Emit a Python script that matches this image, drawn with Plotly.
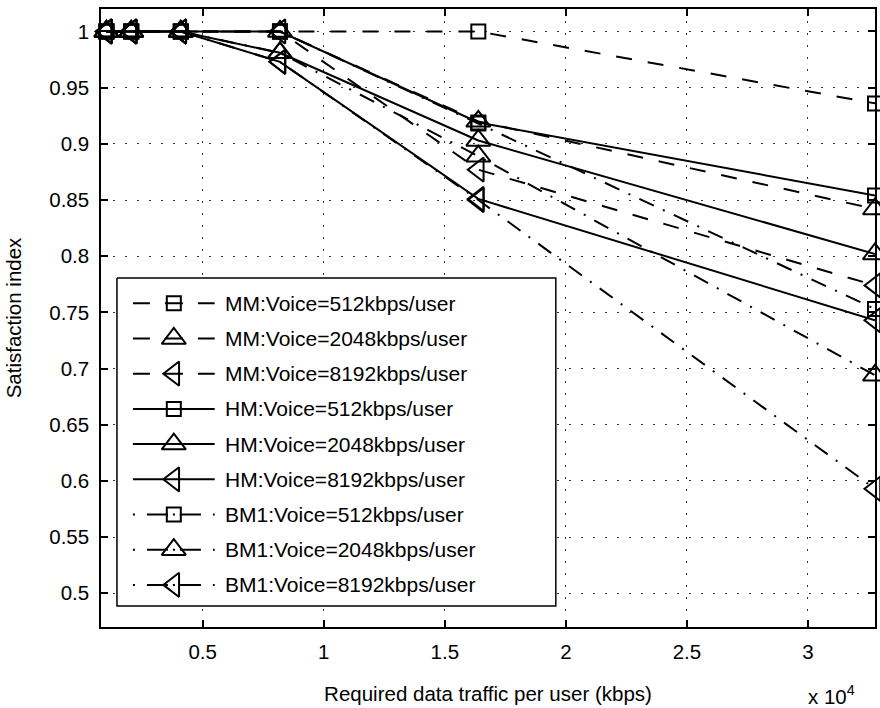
import plotly.graph_objects as go

# ---------------- data ----------------
traffic = [1024, 2048, 4096, 8192, 16384, 32768]

mm_512 = [1, 1, 1, 1, 1.0, 0.936]
mm_2048 = [1, 1, 1, 1, 0.920, 0.842]
mm_8192 = [1, 1, 1, 1, 0.877, 0.774]
hm_512 = [1, 1, 1, 1, 0.919, 0.854]
hm_2048 = [1, 1, 1, 0.981, 0.903, 0.802]
hm_8192 = [1, 1, 1, 0.973, 0.851, 0.743]
bm1_512 = [1, 1, 1, 1, 0.918, 0.753]
bm1_2048 = [1, 1, 1, 0.981, 0.889, 0.694]
bm1_8192 = [1, 1, 1, 0.973, 0.850, 0.593]

names = [
    "MM:Voice=512kbps/user", "MM:Voice=2048kbps/user", "MM:Voice=8192kbps/user",
    "HM:Voice=512kbps/user", "HM:Voice=2048kbps/user", "HM:Voice=8192kbps/user",
    "BM1:Voice=512kbps/user", "BM1:Voice=2048kbps/user", "BM1:Voice=8192kbps/user",
]
values = [mm_512, mm_2048, mm_8192, hm_512, hm_2048, hm_8192, bm1_512, bm1_2048, bm1_8192]
families = ["mm", "mm", "mm", "hm", "hm", "hm", "bm1", "bm1", "bm1"]
symbols = ["square-open", "triangle-up-open", "triangle-left-open"] * 3

x_tickvals = [5000, 10000, 15000, 20000, 25000, 30000]
x_ticktext = ["0.5", "1", "1.5", "2", "2.5", "3"]
y_tickvals = [0.5, 0.55, 0.6, 0.65, 0.7, 0.75, 0.8, 0.85, 0.9, 0.95, 1.0]
y_ticktext = ["0.5", "0.55", "0.6", "0.65", "0.7", "0.75", "0.8", "0.85", "0.9", "0.95", "1"]

# ---------------- styles ----------------
FONT = "Liberation Sans, Arial, Helvetica, sans-serif"
FS = 20.5
LFS = 21
plot_dash = {"mm": "16px,16px", "hm": "solid", "bm1": "16px,10px,2px,10px"}
legend_dash = {"mm": "17px,15px,18px,15px,17px", "hm": "solid",
               "bm1": "2px,12px,21px,5px,2px,5px,21px,12px,2px"}
msize = {"square-open": 14, "triangle-up-open": 21, "triangle-left-open": 21}

W, H = 880, 708
ML, MR, MT, MB = 101, 3, 9, 81
PX0, PX1 = ML, W - MR
PY0, PY1 = MT, H - MB

fig = go.Figure()

for name, vals, fam, sym in zip(names, values, families, symbols):
    fig.add_trace(go.Scatter(
        x=traffic, y=vals, name=name, mode="lines+markers",
        line=dict(color="black", width=2, dash=plot_dash[fam]),
        marker=dict(symbol=sym, size=msize[sym], color="black",
                    line=dict(color="black", width=2)),
        cliponaxis=False, showlegend=False,
    ))

# ---------------- custom MATLAB-like legend (overlay pixel axes) ----------------
LEG_X0, LEG_X1, LEG_Y0, LEG_Y1 = 117, 557, 278, 606
SAMPLE_X0, SAMPLE_X1, TEXT_X = 133, 215, 223
ROW0, ROWSTEP = 303.3, 35.2

fig.add_trace(go.Scatter(
    x=[LEG_X0, LEG_X1, LEG_X1, LEG_X0, LEG_X0],
    y=[LEG_Y0, LEG_Y0, LEG_Y1, LEG_Y1, LEG_Y0],
    mode="lines", fill="toself", fillcolor="white",
    line=dict(color="black", width=1.5),
    xaxis="x2", yaxis="y2", showlegend=False, hoverinfo="skip"))

for i, (name, fam, sym) in enumerate(zip(names, families, symbols)):
    yy = ROW0 + i * ROWSTEP
    fig.add_trace(go.Scatter(
        x=[SAMPLE_X0, SAMPLE_X1], y=[yy, yy], mode="lines",
        line=dict(color="black", width=2, dash=legend_dash[fam]),
        xaxis="x2", yaxis="y2", showlegend=False, hoverinfo="skip"))
    fig.add_trace(go.Scatter(
        x=[(SAMPLE_X0 + SAMPLE_X1) / 2], y=[yy], mode="markers",
        marker=dict(symbol=sym, size=msize[sym], color="black",
                    line=dict(color="black", width=2)),
        xaxis="x2", yaxis="y2", showlegend=False, hoverinfo="skip"))
    fig.add_annotation(x=TEXT_X, y=yy, xref="x2", yref="y2", text=name,
                       showarrow=False, xanchor="left", yanchor="middle",
                       font=dict(family=FONT, size=LFS, color="black"))

fig.add_annotation(x=(808 - PX0) / (PX1 - PX0), y=(PY1 - 695) / (PY1 - PY0),
                   xref="paper", yref="paper", text="x 10<sup>4</sup>",
                   showarrow=False, xanchor="left", yanchor="middle",
                   font=dict(family=FONT, size=FS, color="black"))

axis_common = dict(
    showline=True, linecolor="black", linewidth=1.5, mirror="ticks",
    ticks="inside", ticklen=7, tickcolor="black", tickwidth=1.5,
    showgrid=True, gridcolor="#333333", gridwidth=1.2, griddash="2px,10px",
    zeroline=False, tickfont=dict(family=FONT, size=FS, color="black"),
)

fig.update_layout(
    width=W, height=H,
    margin=dict(l=ML, r=MR, t=MT, b=MB, pad=0),
    paper_bgcolor="white", plot_bgcolor="white",
    showlegend=False,
    font=dict(family=FONT, size=FS, color="black"),
    xaxis=dict(range=[800, 32768], tickvals=x_tickvals, ticktext=x_ticktext,
               ticklabelstandoff=6,
               title=dict(text="Required data traffic per user (kbps)",
                          font=dict(family=FONT, size=FS, color="black"), standoff=24),
               **axis_common),
    yaxis=dict(range=[0.47, 1.02], tickvals=y_tickvals, ticktext=y_ticktext,
               ticklabelstandoff=6,
               title=dict(text="Satisfaction index",
                          font=dict(family=FONT, size=FS, color="black"), standoff=22),
               **axis_common),
    xaxis2=dict(overlaying="x", range=[PX0, PX1], visible=False, anchor="y2",
                fixedrange=True),
    yaxis2=dict(overlaying="y", range=[PY1, PY0], visible=False, anchor="x2",
                fixedrange=True),
)

fig.write_html("out.html")
